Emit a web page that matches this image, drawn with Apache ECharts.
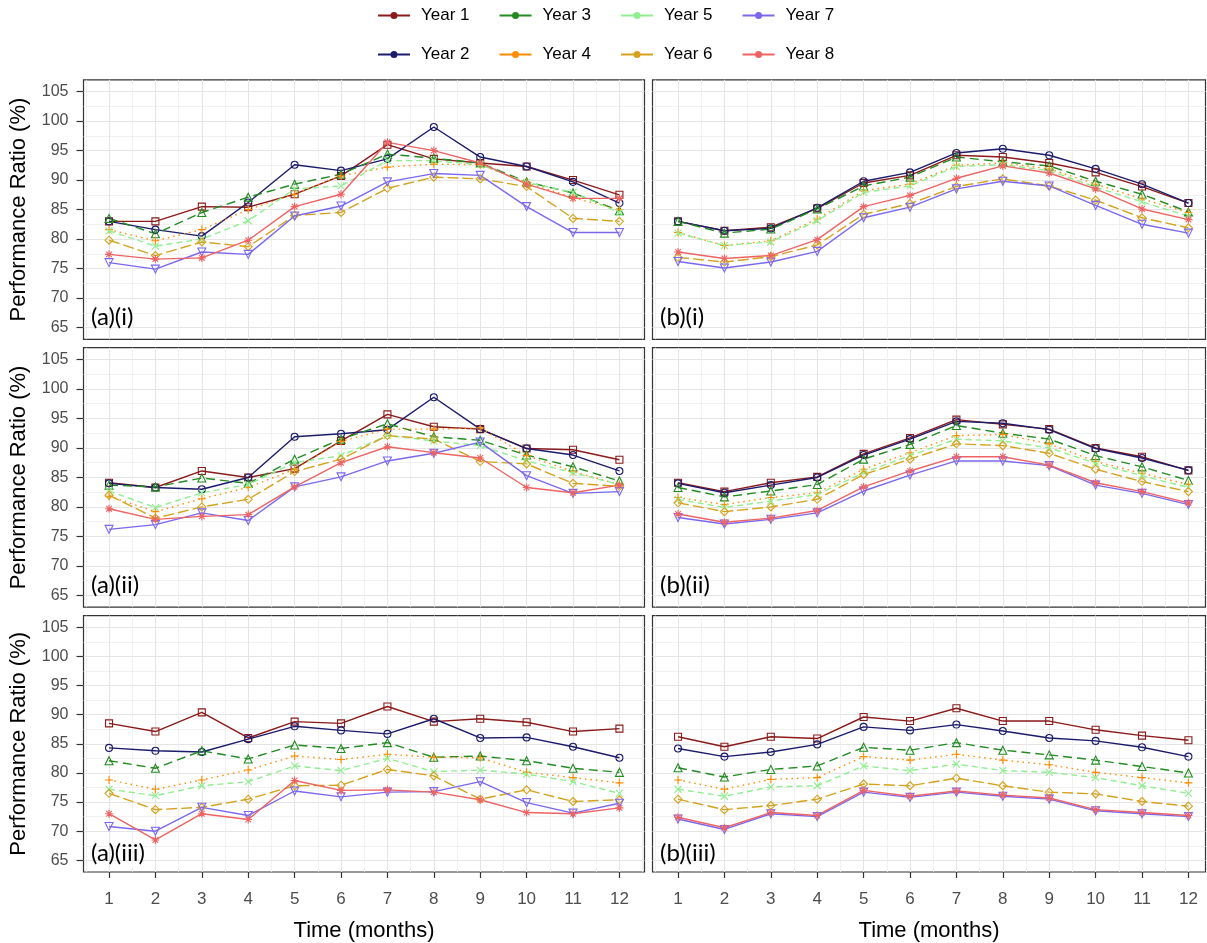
<!DOCTYPE html>
<html>
<head>
<meta charset="utf-8">
<script src="https://cdn.jsdelivr.net/npm/echarts@6/dist/echarts.min.js"></script>
<style>
html,body{margin:0;padding:0;background:#fff;}
#main{width:1207px;height:943px;}
</style>
</head>
<body>
<div id="main"></div>
<script>
// ---------------- DATA ----------------
const months = [1,2,3,4,5,6,7,8,9,10,11,12];
const yearNames = ['Year 1','Year 2','Year 3','Year 4','Year 5','Year 6','Year 7','Year 8'];
const yTickValues = [65,70,75,80,85,90,95,100,105];
const yMinorValues = [67.5,72.5,77.5,82.5,87.5,92.5,97.5,102.5];
const xTickValues = [1,2,3,4,5,6,7,8,9,10,11,12];
const xMinorValues = [0.5,1.5,2.5,3.5,4.5,5.5,6.5,7.5,8.5,9.5,10.5,11.5,12.5];
const panelLabels = ['(a)(i)','(b)(i)','(a)(ii)','(b)(ii)','(a)(iii)','(b)(iii)'];

// (a)(i)
const panelAi = [
  [83.0, 83.0, 85.5, 85.4, 87.6, 90.7, 96.0, 93.6, 92.9, 92.3, 90.0, 87.5],
  [83.0, 81.6, 80.5, 86.2, 92.6, 91.6, 93.6, 99.0, 93.9, 92.3, 89.7, 86.1],
  [83.5, 80.9, 84.5, 87.1, 89.3, 91.0, 94.4, 93.7, 92.9, 89.7, 87.8, 84.8],
  [81.6, 79.7, 81.6, 85.0, 87.6, 90.7, 92.2, 92.7, 92.6, 89.6, 87.0, 85.0],
  [81.4, 78.8, 80.0, 83.1, 88.5, 89.0, 93.3, 93.3, 92.6, 89.6, 87.9, 84.5],
  [79.8, 77.2, 79.5, 78.7, 84.0, 84.5, 88.6, 90.5, 90.2, 88.9, 83.5, 83.0],
  [76.0, 74.9, 77.8, 77.4, 83.9, 85.6, 89.7, 91.1, 90.8, 85.5, 81.1, 81.1],
  [77.4, 76.6, 76.8, 79.8, 85.5, 87.6, 96.4, 95.0, 92.9, 89.3, 86.9, 86.9]
];
// (b)(i)
const panelBi = [
  [83.0, 81.4, 82.0, 85.2, 89.5, 90.8, 94.2, 93.9, 92.9, 91.3, 88.9, 86.1],
  [83.0, 81.4, 81.8, 85.3, 89.8, 91.3, 94.6, 95.3, 94.2, 91.9, 89.3, 86.1],
  [83.0, 81.0, 81.7, 85.1, 89.0, 90.5, 93.9, 93.1, 92.4, 89.8, 87.6, 84.6],
  [81.1, 78.9, 79.7, 83.4, 88.2, 89.3, 92.5, 92.9, 91.9, 89.3, 86.8, 84.5],
  [81.0, 78.9, 79.5, 83.1, 87.9, 89.0, 92.3, 92.6, 91.6, 88.8, 86.3, 83.9],
  [76.9, 76.1, 77.0, 79.0, 84.2, 86.0, 88.9, 90.2, 89.0, 86.6, 83.6, 81.9],
  [76.2, 75.1, 76.1, 77.9, 83.6, 85.4, 88.5, 89.8, 89.0, 85.7, 82.5, 81.0],
  [77.8, 76.7, 77.2, 79.9, 85.5, 87.4, 90.3, 92.4, 91.2, 88.5, 85.1, 83.3]
];
// (a)(ii)
const panelAii = [
  [84.1, 83.3, 86.1, 85.0, 86.5, 91.2, 95.7, 93.6, 93.2, 89.9, 89.7, 88.0],
  [84.0, 83.3, 83.0, 85.0, 91.9, 92.4, 93.1, 98.6, 93.2, 89.9, 88.8, 86.1],
  [83.7, 83.4, 84.9, 84.0, 88.1, 91.5, 94.1, 91.9, 91.3, 88.8, 86.8, 84.4],
  [81.8, 79.2, 81.4, 83.3, 86.4, 91.1, 93.2, 93.2, 93.4, 88.7, 86.0, 83.8],
  [82.7, 79.9, 82.4, 83.8, 87.5, 88.7, 92.1, 91.2, 90.4, 87.8, 85.8, 83.8],
  [82.0, 78.1, 80.0, 81.3, 86.0, 88.1, 92.1, 91.5, 87.7, 87.3, 84.0, 83.5],
  [76.2, 77.0, 79.0, 77.7, 83.4, 85.1, 87.8, 89.1, 91.0, 85.3, 82.3, 82.6],
  [79.7, 77.9, 78.4, 78.7, 83.4, 87.5, 90.2, 89.2, 88.3, 83.3, 82.4, 83.7]
];
// (b)(ii)
const panelBii = [
  [84.1, 82.6, 84.1, 85.1, 89.0, 91.7, 94.8, 94.0, 93.2, 90.0, 88.5, 86.2],
  [84.0, 82.4, 83.7, 85.0, 88.8, 91.5, 94.5, 94.2, 93.1, 89.9, 88.3, 86.2],
  [83.3, 81.7, 82.7, 83.8, 88.1, 90.6, 93.8, 92.5, 91.5, 88.7, 86.8, 84.5],
  [81.6, 80.4, 81.6, 82.4, 86.4, 89.2, 92.1, 92.3, 90.7, 87.7, 85.7, 83.8],
  [81.3, 79.9, 81.0, 82.1, 85.8, 88.7, 91.5, 91.2, 90.0, 87.4, 85.3, 83.3],
  [80.7, 79.2, 80.0, 81.3, 85.5, 88.1, 90.7, 90.4, 89.1, 86.4, 84.3, 82.6],
  [78.2, 77.1, 77.9, 79.0, 82.7, 85.4, 87.8, 87.8, 87.0, 83.7, 82.3, 80.4],
  [78.8, 77.4, 78.1, 79.4, 83.4, 86.1, 88.5, 88.5, 87.1, 84.1, 82.6, 80.7]
];
// (a)(iii)
const panelAiii = [
  [88.5, 87.1, 90.4, 86.0, 88.8, 88.5, 91.4, 88.8, 89.3, 88.7, 87.1, 87.6],
  [84.3, 83.8, 83.6, 85.8, 88.0, 87.3, 86.7, 89.3, 86.0, 86.1, 84.5, 82.6],
  [82.1, 80.8, 83.8, 82.4, 84.8, 84.2, 85.2, 82.7, 82.9, 82.1, 80.8, 80.1],
  [78.8, 77.2, 78.8, 80.5, 82.9, 82.3, 83.2, 82.7, 82.6, 80.1, 79.2, 78.3],
  [77.2, 76.1, 77.8, 78.5, 81.2, 80.4, 82.5, 80.2, 80.5, 79.8, 78.5, 76.5],
  [76.5, 73.7, 74.1, 75.5, 77.8, 77.9, 80.6, 79.5, 75.5, 77.1, 75.1, 75.4],
  [70.8, 70.0, 74.1, 72.7, 76.9, 75.9, 76.7, 76.8, 78.5, 74.9, 73.1, 74.8],
  [73.0, 68.5, 73.0, 72.0, 78.7, 77.0, 77.1, 76.7, 75.4, 73.2, 73.0, 74.0]
];
// (b)(iii)
const panelBiii = [
  [86.2, 84.5, 86.2, 85.9, 89.6, 88.9, 91.1, 88.9, 88.9, 87.4, 86.4, 85.6],
  [84.2, 82.8, 83.6, 84.9, 87.9, 87.3, 88.3, 87.2, 86.0, 85.5, 84.4, 82.8],
  [80.9, 79.3, 80.6, 81.2, 84.4, 83.9, 85.2, 83.9, 83.1, 82.2, 81.1, 80.0],
  [78.8, 77.2, 78.9, 79.2, 82.8, 82.2, 83.2, 82.2, 81.4, 80.1, 79.2, 78.3],
  [77.2, 76.0, 77.6, 77.8, 81.2, 80.4, 81.5, 80.4, 80.1, 79.2, 77.8, 76.5],
  [75.5, 73.7, 74.4, 75.5, 78.1, 77.8, 79.1, 77.8, 76.7, 76.4, 75.1, 74.3],
  [72.1, 70.3, 73.0, 72.5, 76.7, 75.8, 76.7, 76.0, 75.5, 73.5, 73.0, 72.5],
  [72.4, 70.6, 73.2, 72.7, 77.0, 76.0, 76.9, 76.2, 75.7, 73.7, 73.2, 72.7]
];

const panels = [panelAi, panelBi, panelAii, panelBii, panelAiii, panelBiii];

// ---------------- STYLE ----------------
const yearColors = ['#8B1A1A','#1B1B6B','#228B22','#FF8C00','#90EE90','#D4A21C','#7B68EE','#EE6363'];
const yearSymbols = [
  'rect', 'circle', 'triangle',
  'path://M5,0L5,10M0,5L10,5',
  'path://M0,0L10,10M10,0L0,10',
  'diamond',
  'path://M0,0L10,0L5,8.66Z',
  'path://M5,0L5,10M0,5L10,5M1.46,1.46L8.54,8.54M8.54,1.46L1.46,8.54'
];
const yearSymbolSize = [7, 7, 8, 8, 7, 8, 8, 8];
const yearDash = ['solid','solid',[9,5],[1.5,4],[6,4],[11,4],'solid','solid'];
const legendIcon = 'path://M0,3.1L13,3.1L13,4.9L0,4.9Z M19,3.1L32,3.1L32,4.9L19,4.9Z M12.5,4A3.5,3.5,0,1,1,19.5,4A3.5,3.5,0,1,1,12.5,4Z';
const FONT = "'Liberation Sans', Arial, Helvetica, sans-serif";

const rowTop = [79.8, 347.7, 615.6];
const rowH = 259.5;
const colLeft = [83.5, 652.5];
const colWidth = [561, 553];
const xMin = 0.45;
const xMax = [0.45 + 561/46.4, 0.45 + 553/46.4];

const grids = [], xAxes = [], yAxes = [], series = [], graphics = [];

panels.forEach((pdata, p) => {
  const r = Math.floor(p / 2), c = p % 2;
  const isBottom = r === 2, isLeft = c === 0;
  grids.push({
    left: colLeft[c], top: rowTop[r], width: colWidth[c], height: rowH,
    show: true, borderColor: '#333333', borderWidth: 1.2, backgroundColor: 'rgba(0,0,0,0)'
  });
  // major x
  xAxes.push({
    type: 'value', gridIndex: p, min: xMin, max: xMax[c],
    minInterval: 1, maxInterval: 1,
    axisLine: { show: false },
    axisTick: { show: isBottom, customValues: xTickValues, length: 6, lineStyle: { color: '#333', width: 1.2 } },
    axisLabel: { show: isBottom, customValues: xTickValues, fontSize: 17, color: '#4D4D4D', margin: 19, fontFamily: FONT },
    splitLine: { show: true, lineStyle: { color: '#E4E4E4', width: 1.1 } },
    name: isBottom ? 'Time (months)' : '', nameLocation: 'middle', nameGap: 48,
    nameTextStyle: { fontSize: 22, color: '#000', fontFamily: FONT }
  });
  // minor x
  xAxes.push({
    type: 'value', gridIndex: p, min: xMin, max: xMax[c],
    axisLine: { show: false },
    axisTick: { show: false, customValues: xMinorValues },
    axisLabel: { show: false, customValues: xMinorValues },
    splitLine: { show: true, lineStyle: { color: '#EEEEEE', width: 0.8 } }
  });
  // major y
  yAxes.push({
    type: 'value', gridIndex: p, min: 63, max: 107,
    minInterval: 5, maxInterval: 5,
    axisLine: { show: false },
    axisTick: { show: isLeft, customValues: yTickValues, length: 7, lineStyle: { color: '#333', width: 1.2 } },
    axisLabel: { show: isLeft, customValues: yTickValues, fontSize: 16, color: '#4D4D4D', margin: 15, fontFamily: FONT },
    splitLine: { show: true, lineStyle: { color: '#E4E4E4', width: 1.1 } },
    name: isLeft ? 'Performance Ratio (%)' : '', nameLocation: 'middle', nameGap: 54, nameRotate: 90,
    nameTextStyle: { fontSize: 22, color: '#000', fontFamily: FONT }
  });
  // minor y
  yAxes.push({
    type: 'value', gridIndex: p, min: 63, max: 107,
    axisLine: { show: false },
    axisTick: { show: false, customValues: yMinorValues },
    axisLabel: { show: false, customValues: yMinorValues },
    splitLine: { show: true, lineStyle: { color: '#EEEEEE', width: 0.8 } }
  });

  pdata.forEach((vals, y) => {
    const col = yearColors[y];
    series.push({
      type: 'line', name: yearNames[y],
      xAxisIndex: 2 * p, yAxisIndex: 2 * p,
      data: months.map((m, i) => [m, vals[i]]),
      symbol: yearSymbols[y], symbolSize: yearSymbolSize[y],
      showSymbol: true, showAllSymbol: true,
      lineStyle: { color: col, width: 1.4, type: yearDash[y] },
      itemStyle: { color: 'rgba(0,0,0,0)', borderColor: col, borderWidth: 1.1 },
      emphasis: { disabled: true },
      animation: false
    });
  });

  graphics.push({
    type: 'text', left: colLeft[c] + 7.5, top: rowTop[r] + rowH - 34,
    style: { text: panelLabels[p], fontSize: 24, fill: '#000', fontFamily: "Lato, 'Open Sans', sans-serif" },
    z: 100
  });
});

function legendData(idx) {
  return idx.map(i => ({
    name: yearNames[i], icon: legendIcon,
    itemStyle: { color: yearColors[i], borderWidth: 0 }
  }));
}
const legendCommon = {
  left: 373, orient: 'horizontal', itemWidth: 32, itemHeight: 8, itemGap: 30,
  selectedMode: false,
  textStyle: { fontSize: 17, color: '#000', fontFamily: FONT, padding: [0, 0, 0, 6] }
};

const option = {
  animation: false,
  backgroundColor: '#ffffff',
  grid: grids,
  xAxis: xAxes,
  yAxis: yAxes,
  legend: [
    Object.assign({}, legendCommon, { top: 2, data: legendData([0, 2, 4, 6]) }),
    Object.assign({}, legendCommon, { top: 41, data: legendData([1, 3, 5, 7]) })
  ],
  graphic: graphics,
  series: series
};

const chart = echarts.init(document.getElementById('main'), null, { renderer: 'canvas' });
chart.setOption(option);
</script>
</body>
</html>
